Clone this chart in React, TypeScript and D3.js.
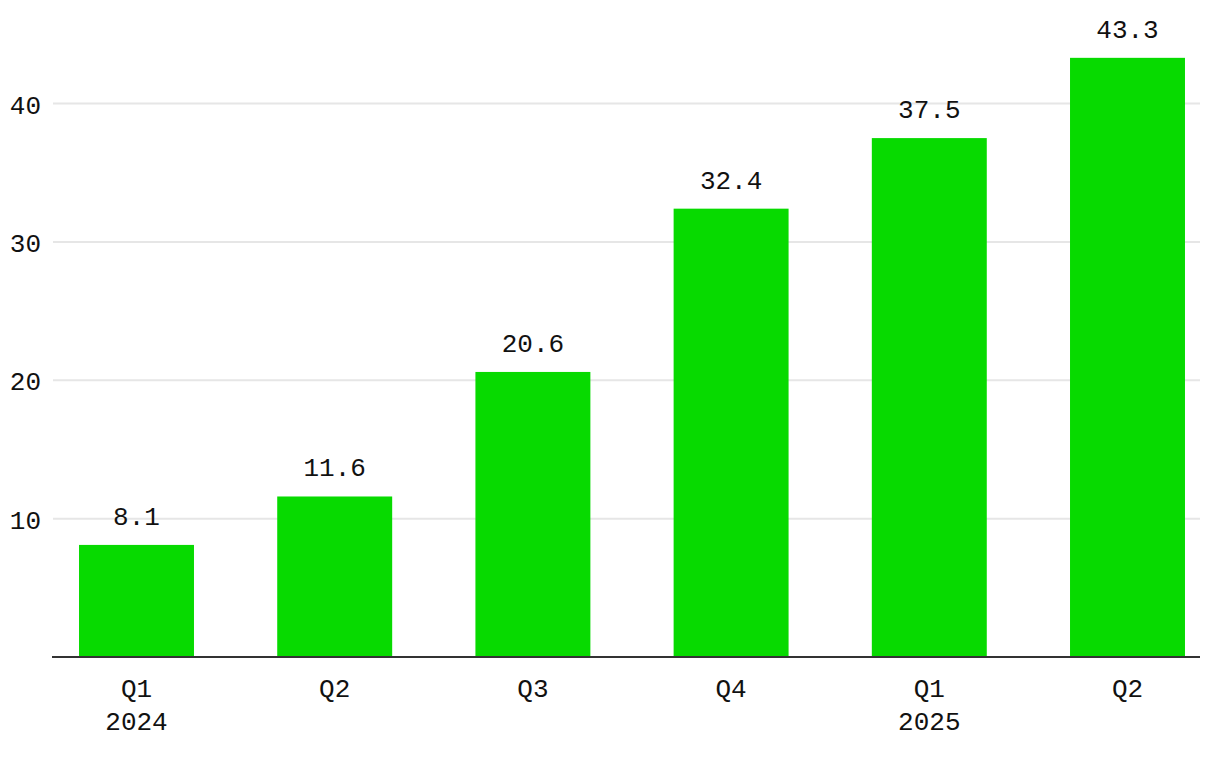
import React from 'react';
import * as d3 from 'd3';

const quarters = ['Q1', 'Q2', 'Q3', 'Q4', 'Q1', 'Q2'];
const years = ['2024', '', '', '', '2025', ''];
const values = [8.1, 11.6, 20.6, 32.4, 37.5, 43.3];
const yTicks = [10, 20, 30, 40];

const W = 1220;
const H = 760;
const barColor = '#07da00';
const mono = '"Liberation Mono", "DejaVu Sans Mono", monospace';

const App: React.FC = () => {
    const keys = values.map((_, i) => String(i));

    const x = d3.scaleBand<string>()
        .domain(keys)
        .range([37.4, 1226.6])
        .paddingInner(0.42)
        .paddingOuter(0.21);

    const y = d3.scaleLinear()
        .domain([0, 40])
        .range([657, 103.5]);

    return (
        <svg width={W} height={H} style={{ position: 'absolute', left: 0, top: 0, background: '#fff' }}>
            {/* grid */}
            {yTicks.map(t => (
                <g key={t}>
                    <line x1={53} x2={1200} y1={y(t)} y2={y(t)} stroke="#e6e6e6" strokeWidth={2} />
                    <text x={41} y={y(t) + 10} textAnchor="end" fontFamily={mono} fontSize={26} fill="#111">
                        {t}
                    </text>
                </g>
            ))}

            {/* bars */}
            {values.map((v, i) => (
                <g key={i}>
                    <rect
                        x={x(keys[i])!}
                        y={y(v)}
                        width={x.bandwidth()}
                        height={y(0) - y(v)}
                        fill={barColor}
                    />
                    <text
                        x={x(keys[i])! + x.bandwidth() / 2}
                        y={y(v) - 20}
                        textAnchor="middle"
                        fontFamily={mono}
                        fontSize={26}
                        fill="#111"
                    >
                        {v.toFixed(1)}
                    </text>
                    <text
                        x={x(keys[i])! + x.bandwidth() / 2}
                        y={697}
                        textAnchor="middle"
                        fontFamily={mono}
                        fontSize={26}
                        fill="#111"
                    >
                        {quarters[i]}
                    </text>
                    {years[i] && (
                        <text
                            x={x(keys[i])! + x.bandwidth() / 2}
                            y={730}
                            textAnchor="middle"
                            fontFamily={mono}
                            fontSize={26}
                            fill="#111"
                        >
                            {years[i]}
                        </text>
                    )}
                </g>
            ))}

            {/* baseline */}
            <line x1={52} x2={1200} y1={y(0)} y2={y(0)} stroke="#333" strokeWidth={2} />
        </svg>
    );
};

export default App;
